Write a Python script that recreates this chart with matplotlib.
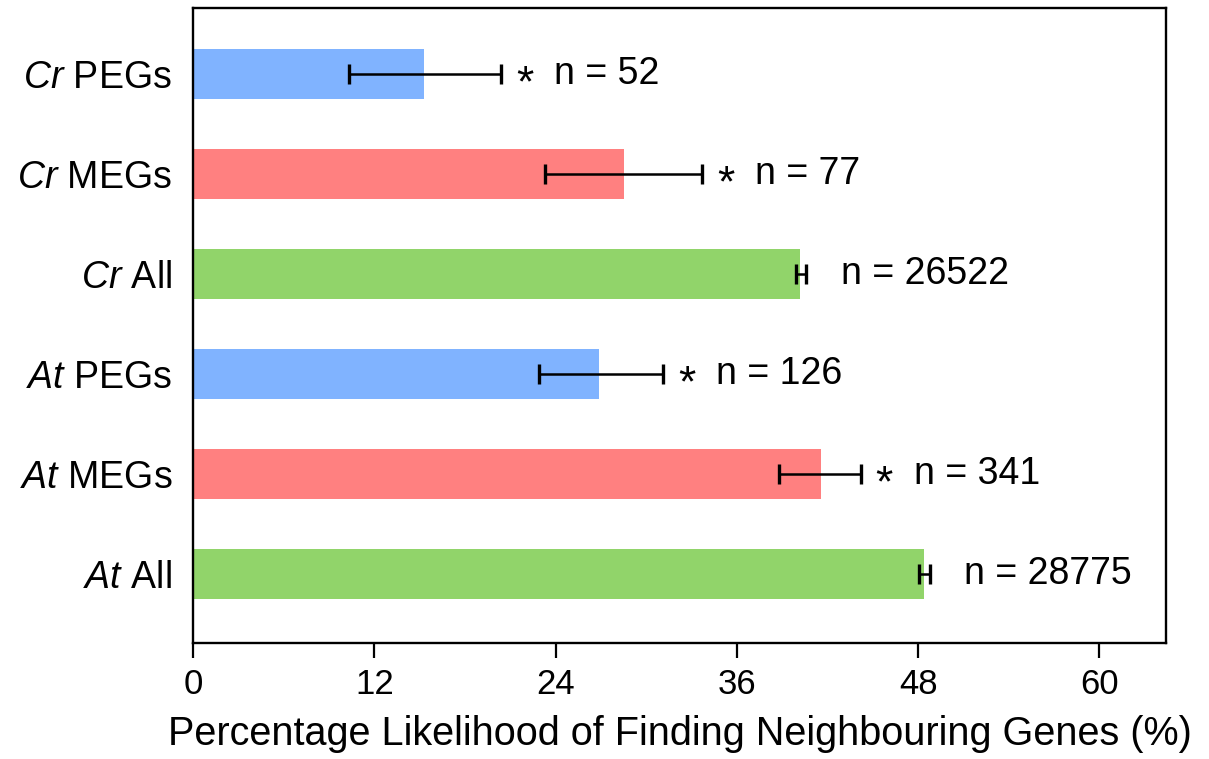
import matplotlib
matplotlib.use("Agg")
import matplotlib.pyplot as plt

plt.rcParams['font.family'] = ['Liberation Sans', 'DejaVu Sans']
plt.rcParams['mathtext.fontset'] = 'custom'
plt.rcParams['mathtext.rm'] = 'Liberation Sans'
plt.rcParams['mathtext.it'] = 'Liberation Sans:italic'

categories = [r'$\it{At}$ All', r'$\it{At}$ MEGs', r'$\it{At}$ PEGs',
              r'$\it{Cr}$ All', r'$\it{Cr}$ MEGs', r'$\it{Cr}$ PEGs']
values = [48.4, 41.6, 26.9, 40.2, 28.5, 15.3]
err_low = [48.05, 38.8, 22.9, 39.9, 23.3, 10.3]
err_high = [48.75, 44.2, 31.1, 40.6, 33.7, 20.4]
n_labels = ['n = 28775', 'n = 341', 'n = 126', 'n = 26522', 'n = 77', 'n = 52']
significant = [False, True, True, False, True, True]
colors = ['#91D46A', '#FF8080', '#80B3FF', '#91D46A', '#FF8080', '#80B3FF']
xticks = [0, 12, 24, 36, 48, 60]

fig = plt.figure(figsize=(12.09, 7.59), dpi=100)
ax = fig.add_axes([0.1596, 0.153, 0.8048, 0.8365])

ypos = list(range(len(categories)))
ax.barh(ypos, values, height=0.5, color=colors, zorder=1)
xerr = [[v - l for v, l in zip(values, err_low)], [h - v for v, h in zip(values, err_high)]]
ax.errorbar(values, ypos, xerr=xerr, fmt='none', ecolor='black', elinewidth=1.8,
            capsize=7, capthick=2.4, zorder=3)

for y, hi, lab, sig in zip(ypos, err_high, n_labels, significant):
    if sig:
        ax.annotate('*', xy=(hi, y), xytext=(17, -16), textcoords='offset points',
                    ha='center', va='baseline', fontsize=32, color='black')
        ax.annotate(lab, xy=(hi, y), xytext=(38, 0), textcoords='offset points',
                    ha='left', va='center', fontsize=27, color='black')
    else:
        ax.annotate(lab, xy=(hi, y), xytext=(25, 0), textcoords='offset points',
                    ha='left', va='center', fontsize=27, color='black')

ax.set_xlim(0, 64.4)
ax.set_ylim(-0.69, 5.66)
ax.set_xticks(xticks)
ax.set_xticklabels([str(t) for t in xticks], fontsize=25)
ax.set_yticks(ypos)
ax.set_yticklabels(categories, fontsize=27)
ax.tick_params(axis='y', length=0, pad=15)
ax.tick_params(axis='x', length=11, width=1.6, pad=7)
for s in ax.spines.values():
    s.set_linewidth(1.7)
ax.set_xlabel('Percentage Likelihood of Finding Neighbouring Genes (%)', fontsize=28.5, labelpad=10)

fig.savefig('out.png', dpi=100)
